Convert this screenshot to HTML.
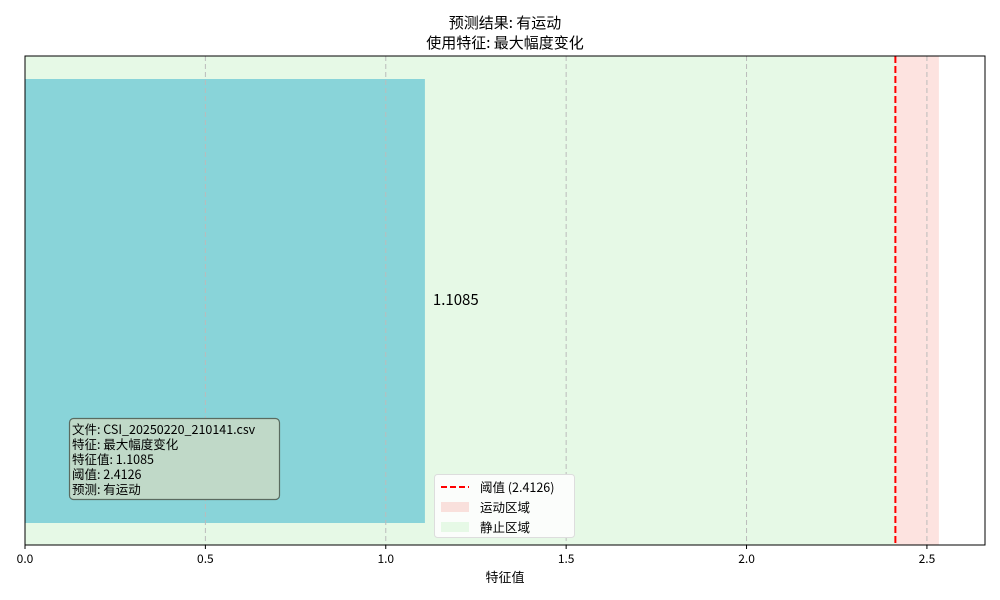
<!DOCTYPE html>
<html><head><meta charset="utf-8"><style>
body{margin:0;background:#fff}
svg{display:block;font-family:"WenQuanYi Zen Hei","Noto Sans CJK SC",sans-serif}
</style></head><body>
<svg id="chart" width="1000" height="600">
<text x="505" y="28" font-size="15" text-anchor="middle">预测结果: 有运动</text>
<text x="505" y="48" font-size="15" text-anchor="middle">使用特征: 最大幅度变化</text>
<g id="plot"></g>
<text x="505" y="582" font-size="13" text-anchor="middle">特征值</text>
</svg>
<script>
const featureValue = [1.1085];
const threshold = [2.4126];
const motionEnd = [2.5332];
const xTicks = [0.0, 0.5, 1.0, 1.5, 2.0, 2.5];
const xMax = 2.661;
const L=25,R=985,T=56,B=545;
const xs=v=>L+(v/xMax)*(R-L);
const g=document.getElementById('plot');
const NS='http://www.w3.org/2000/svg';
function mk(tag,attrs){const e=document.createElementNS(NS,tag);for(const k in attrs)e.setAttribute(k,attrs[k]);g.appendChild(e);return e;}
let e;
e=mk('rect',{x:xs(0),y:T,width:xs(threshold[0])-xs(0),height:B-T,fill:'#e6f9e6'});


e=mk('rect',{x:xs(threshold[0]),y:T,width:xs(motionEnd[0])-xs(threshold[0]),height:B-T,fill:'#fde3e0'});


e=mk('rect',{x:xs(0),y:79,width:xs(featureValue[0])-xs(0),height:444,fill:'#89d4d9'});


xTicks.forEach(t=>{
 if(t>0){e=mk('line',{x1:xs(t),x2:xs(t),y1:T,y2:B,stroke:'#bbb','stroke-width':1,'stroke-dasharray':'5,3'});
 
 }
 e=mk('line',{x1:xs(t),x2:xs(t),y1:B,y2:B+4,stroke:'#000'});
 
 
 e=mk('text',{x:xs(t),y:B+18,'font-size':12,'text-anchor':'middle'});
 e.textContent=t.toFixed(1);
 
 
});
e=mk('line',{x1:xs(threshold[0]),x2:xs(threshold[0]),y1:T,y2:B,stroke:'#f00','stroke-width':2,'stroke-dasharray':'7,3'});


e=mk('text',{x:xs(featureValue[0])+8,y:305,'font-size':15});
e.textContent=featureValue[0].toFixed(4);


e=mk('rect',{x:L,y:T,width:R-L,height:B-T,fill:'none',stroke:'#000','stroke-width':1});


e=mk('rect',{x:69.5,y:418.5,width:210,height:81,rx:4,fill:'#c0d9c8',stroke:'#5a6b60','stroke-width':1.2});


['文件: CSI_20250220_210141.csv','特征: 最大幅度变化','特征值: '+featureValue[0].toFixed(4),'阈值: '+threshold[0].toFixed(4),'预测: 有运动'].forEach((s,i)=>{
 e=mk('text',{x:72,y:434+i*15,'font-size':12.5});e.textContent=s;
 
 
});
e=mk('rect',{x:434.5,y:474.5,width:140,height:63,rx:3,fill:'#fbfdfb',stroke:'#ddd'});


e=mk('line',{x1:441,x2:469,y1:487,y2:487,stroke:'#f00','stroke-width':2,'stroke-dasharray':'6,3'});


e=mk('rect',{x:441,y:502,width:28,height:10,fill:'#f9e0dc'});


e=mk('rect',{x:441,y:522,width:28,height:10,fill:'#e6f9e6'});


['阈值 (2.4126)','运动区域','静止区域'].forEach((s,i)=>{
 e=mk('text',{x:480,y:492+i*20,'font-size':12.5});e.textContent=s;
 
 
});
</script>
</body></html>
